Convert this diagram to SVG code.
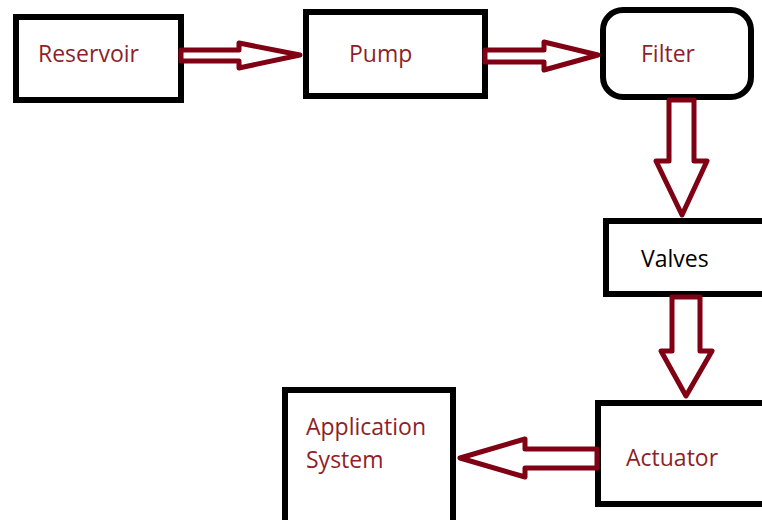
<svg xmlns="http://www.w3.org/2000/svg" width="762" height="520" viewBox="0 0 762 520">
<style>
.box{fill:#fff;stroke:#000;stroke-width:6}
.arr{fill:#fff;stroke:#800014;stroke-width:5;stroke-linejoin:round}
.t{font-family:"Open Sans","Liberation Sans",sans-serif;font-size:23px;fill:#8e1f2a}
.k{fill:#000}
</style>
<rect width="762" height="520" fill="#fff"/>
<g id="reservoir"><rect class="box" x="16" y="17" width="165" height="83"/><text class="t" x="38" y="62">Reservoir</text></g>
<g id="pump"><rect class="box" x="306" y="12" width="179" height="84"/><text class="t" x="349" y="62">Pump</text></g>
<g id="filter"><rect class="box" x="603" y="10" width="148" height="87" rx="20"/><text class="t" x="641" y="62">Filter</text></g>
<g id="valves"><rect class="box" x="606" y="221" width="170" height="73"/><text class="t k" x="641" y="267">Valves</text></g>
<g id="actuator"><rect class="box" x="598" y="403" width="180" height="101"/><text class="t" x="626" y="466">Actuator</text></g>
<g id="application"><rect class="box" x="285" y="390" width="168" height="140"/><text class="t" x="306" y="435">Application</text><text class="t" x="306" y="468">System</text></g>
<g id="connectors">
<polygon class="arr" points="181,50 239,50 239,43 300,55 239,68 239,61 181,61"/>
<polygon class="arr" points="485,50 544,50 544,42 598,55 544,70 544,62 485,62"/>
<polygon class="arr" points="669,100 669,161 656,161 682,215 707,161 694,161 694,100"/>
<polygon class="arr" points="672,297 672,351 661,351 686,396 712,351 700,351 700,297"/>
<polygon class="arr" points="597,449 525,449 525,439 460,458 525,477 525,468 597,468"/>
</g>
</svg>
